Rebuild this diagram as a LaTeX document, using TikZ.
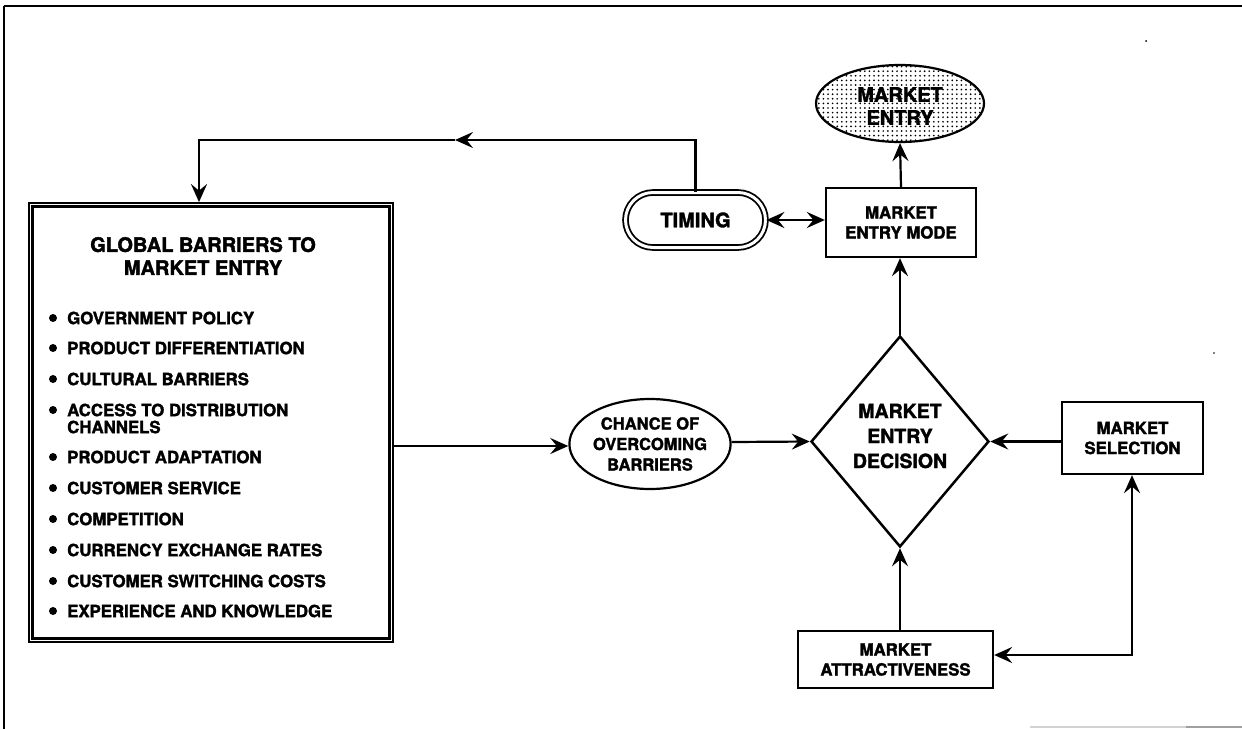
\documentclass[tikz,border=0pt]{standalone}
\usepackage{fontspec}
\setmainfont{TeX Gyre Heros}[BoldFeatures={FakeBold=1.8}]
\usetikzlibrary{shapes.geometric,shapes.misc,arrows.meta,patterns.meta}

\begin{document}
\begin{tikzpicture}[x=1pt,y=-1pt,
  every node/.style={align=center, inner sep=0pt},
  lbl/.style={font=\bfseries\fontsize{16.8}{20}\selectfont},
  big/.style={font=\bfseries\fontsize{20}{23}\selectfont},
  boxed/.style={draw, line width=2.3pt, rectangle},
  tip/.tip={Stealth[length=18pt,width=16pt,inset=6.5pt]},
  conn/.style={line width=2.2pt, -tip},
  conn2/.style={line width=2.2pt, tip-tip}]

\useasboundingbox (0,0) rectangle (1242,729);

% page frame
\draw[line width=2.6pt] (4,6) -- (1242,6);
\draw[line width=1.6pt] (4,6) -- (4,729);
\draw[gray!35, line width=1.2pt] (1030,727) -- (1186,727);
\draw[gray!75, line width=1.4pt] (1186,727) -- (1242,727);
\fill (1146,41) circle (1pt);
\fill (1214,353) circle (0.9pt);

% barriers box (double frame)
\node[draw, line width=1.8pt, minimum width=364pt, minimum height=439pt] (gb) at (211,422.5) {};
\draw[line width=2.8pt] ([shift={(4.5,4.5)}]gb.north west) rectangle ([shift={(-4.5,-4.5)}]gb.south east);
\node[big] (title) at (203,256) {GLOBAL BARRIERS TO\\MARKET ENTRY};

\foreach \yy/\txt in {318/GOVERNMENT POLICY, 348/PRODUCT DIFFERENTIATION,
    379/CULTURAL BARRIERS, 457/PRODUCT ADAPTATION, 488/CUSTOMER SERVICE,
    519/COMPETITION, 550/CURRENCY EXCHANGE RATES, 581/CUSTOMER SWITCHING COSTS,
    611/EXPERIENCE AND KNOWLEDGE} {
  \fill (53,\yy) circle (4pt);
  \node[lbl, anchor=west] (item\yy) at (67,\yy) {\txt};
}
\fill (53,410) circle (4pt);
\node[font=\bfseries\fontsize{16.8}{17}\selectfont, anchor=west, align=left] (item410) at (67,418.5)
  {ACCESS TO DISTRIBUTION\\CHANNELS};

% right-hand flow
\node[draw, line width=1.8pt, double, double distance=3pt, rounded rectangle,
  minimum width=140pt, minimum height=55pt, big] (timing) at (695.5,220) {TIMING};
\node[boxed, lbl, minimum width=150pt, minimum height=69pt] (mem) at (901,222.5) {MARKET\\ENTRY MODE};
\node[draw, line width=2.2pt, ellipse, minimum width=168pt, minimum height=77pt,
  preaction={fill=white}, pattern={Dots[distance=4.6pt, radius=0.95pt]}] (me) at (900,103.5) {};
\node[big] (metext) at (900,106) {MARKET\\ENTRY};
\node[draw, line width=2.5pt, diamond, minimum width=178pt, minimum height=211pt] (dia) at (900,441.5) {};
\node[font=\bfseries\fontsize{19.5}{25}\selectfont] (diatext) at (900,436) {MARKET\\ENTRY\\DECISION};
\node[draw, line width=2.2pt, ellipse, minimum width=120pt, minimum height=90pt,
  font=\bfseries\fontsize{16.5}{20.5}\selectfont] (ch) at (650,444) {CHANCE OF\\OVERCOMING\\BARRIERS};
\node[boxed, lbl, minimum width=141pt, minimum height=72pt] (ms) at (1132.5,438) {MARKET\\SELECTION};
\node[boxed, lbl, minimum width=195pt, minimum height=57pt] (att) at (895.5,659.5) {MARKET\\ATTRACTIVENESS};

% connectors
\coordinate (mid) at (455,140);
\coordinate (tl) at (199,140);
\coordinate (loop) at (1132,655);
\draw[conn] (timing.north) |- (mid);
\draw[conn] (mid) -- (tl) -- (tl |- gb.north);
\draw[conn2] (timing.east) -- (mem.west |- timing.east);
\draw[conn] (mem.north) -- (me.south);
\draw[conn] (dia.north) -- (mem.south -| dia.north);
\draw[conn] (gb.east |- 0,446) -- (ch.west |- 0,446);
\draw[conn] (ch.east |- 0,442) -- (dia.west);
\draw[conn] (ms.west |- 0,441.5) -- (dia.east);
\draw[conn] (att.north -| dia.south) -- (dia.south);
\draw[conn2] (ms.south -| loop) -- (loop) -- (att.east |- loop);
\end{tikzpicture}
\end{document}
